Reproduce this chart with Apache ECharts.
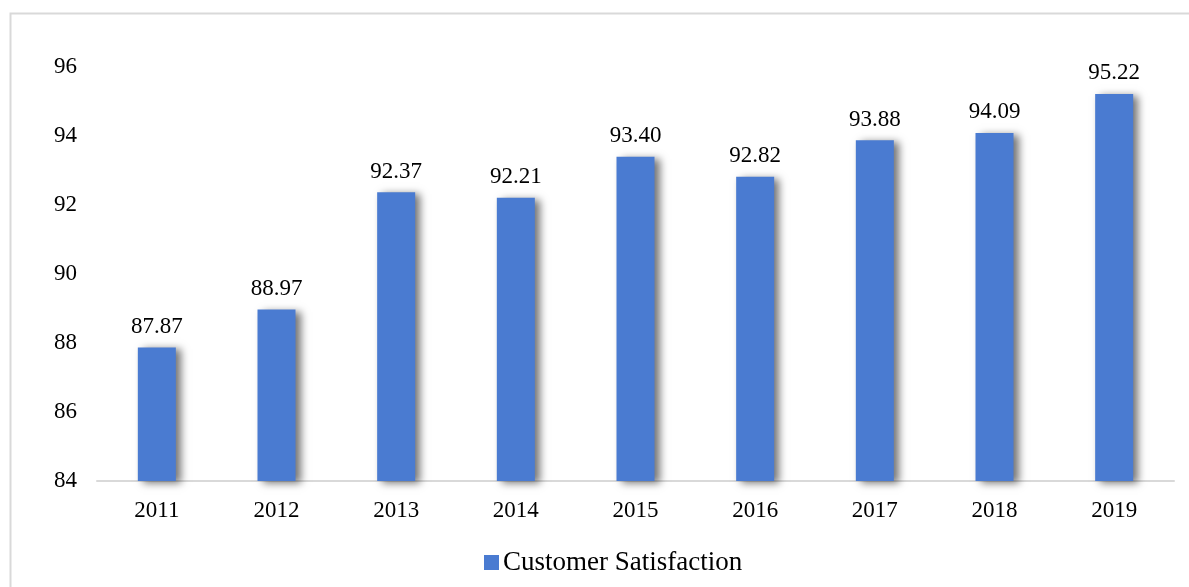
<!DOCTYPE html>
<html>
<head>
<meta charset="utf-8">
<script src="https://cdn.jsdelivr.net/npm/echarts@6/dist/echarts.min.js"></script>
<style>
html,body{margin:0;padding:0;background:#fff;}
#chart{width:1189px;height:587px;}
</style>
</head>
<body>
<div id="chart"></div>
<script>
var categories = ['2011','2012','2013','2014','2015','2016','2017','2018','2019'];
var satisfaction = [87.87, 88.97, 92.37, 92.21, 93.40, 92.82, 93.88, 94.09, 95.22];
var seriesName = 'Customer Satisfaction';

var font = '"Liberation Serif", "Times New Roman", serif';
var chart = echarts.init(document.getElementById('chart'));
chart.setOption({
  animation: false,
  backgroundColor: '#fff',
  graphic: [{
    type: 'rect',
    shape: {x: 10.5, y: 13.5, width: 1300, height: 700},
    style: {fill: 'none', stroke: '#d9d9d9', lineWidth: 2},
    silent: true, z: -1
  }],
  grid: {left: 97, right: 15, top: 67, bottom: 106, containLabel: false},
  legend: {
    data: [seriesName],
    top: 544,
    left: 479,
    itemWidth: 15,
    itemHeight: 15,
    itemGap: 4,
    icon: 'rect',
    textStyle: {fontFamily: font, fontSize: 27, color: '#000', padding: [0,0,0,-1]}
  },
  xAxis: {
    type: 'category',
    data: categories,
    axisLine: {lineStyle: {color: '#d9d9d9', width: 2}},
    axisTick: {show: false},
    axisLabel: {fontFamily: font, fontSize: 23, color: '#000', margin: 18}
  },
  yAxis: {
    type: 'value',
    min: 84, max: 96, interval: 2,
    axisLine: {show: false},
    axisTick: {show: false},
    splitLine: {show: false},
    axisLabel: {fontFamily: font, fontSize: 23, color: '#000', margin: 20}
  },
  series: [{
    name: seriesName,
    type: 'bar',
    data: satisfaction,
    barWidth: 38,
    itemStyle: {
      color: '#4a7bd1',
      shadowColor: 'rgba(0,0,0,0.55)',
      shadowBlur: 8,
      shadowOffsetX: 5,
      shadowOffsetY: 2
    },
    label: {
      show: true,
      position: 'top',
      distance: 9,
      fontFamily: font,
      fontSize: 23,
      color: '#000',
      formatter: function(p){ return p.value.toFixed(2); }
    }
  }]
});
</script>
</body>
</html>
